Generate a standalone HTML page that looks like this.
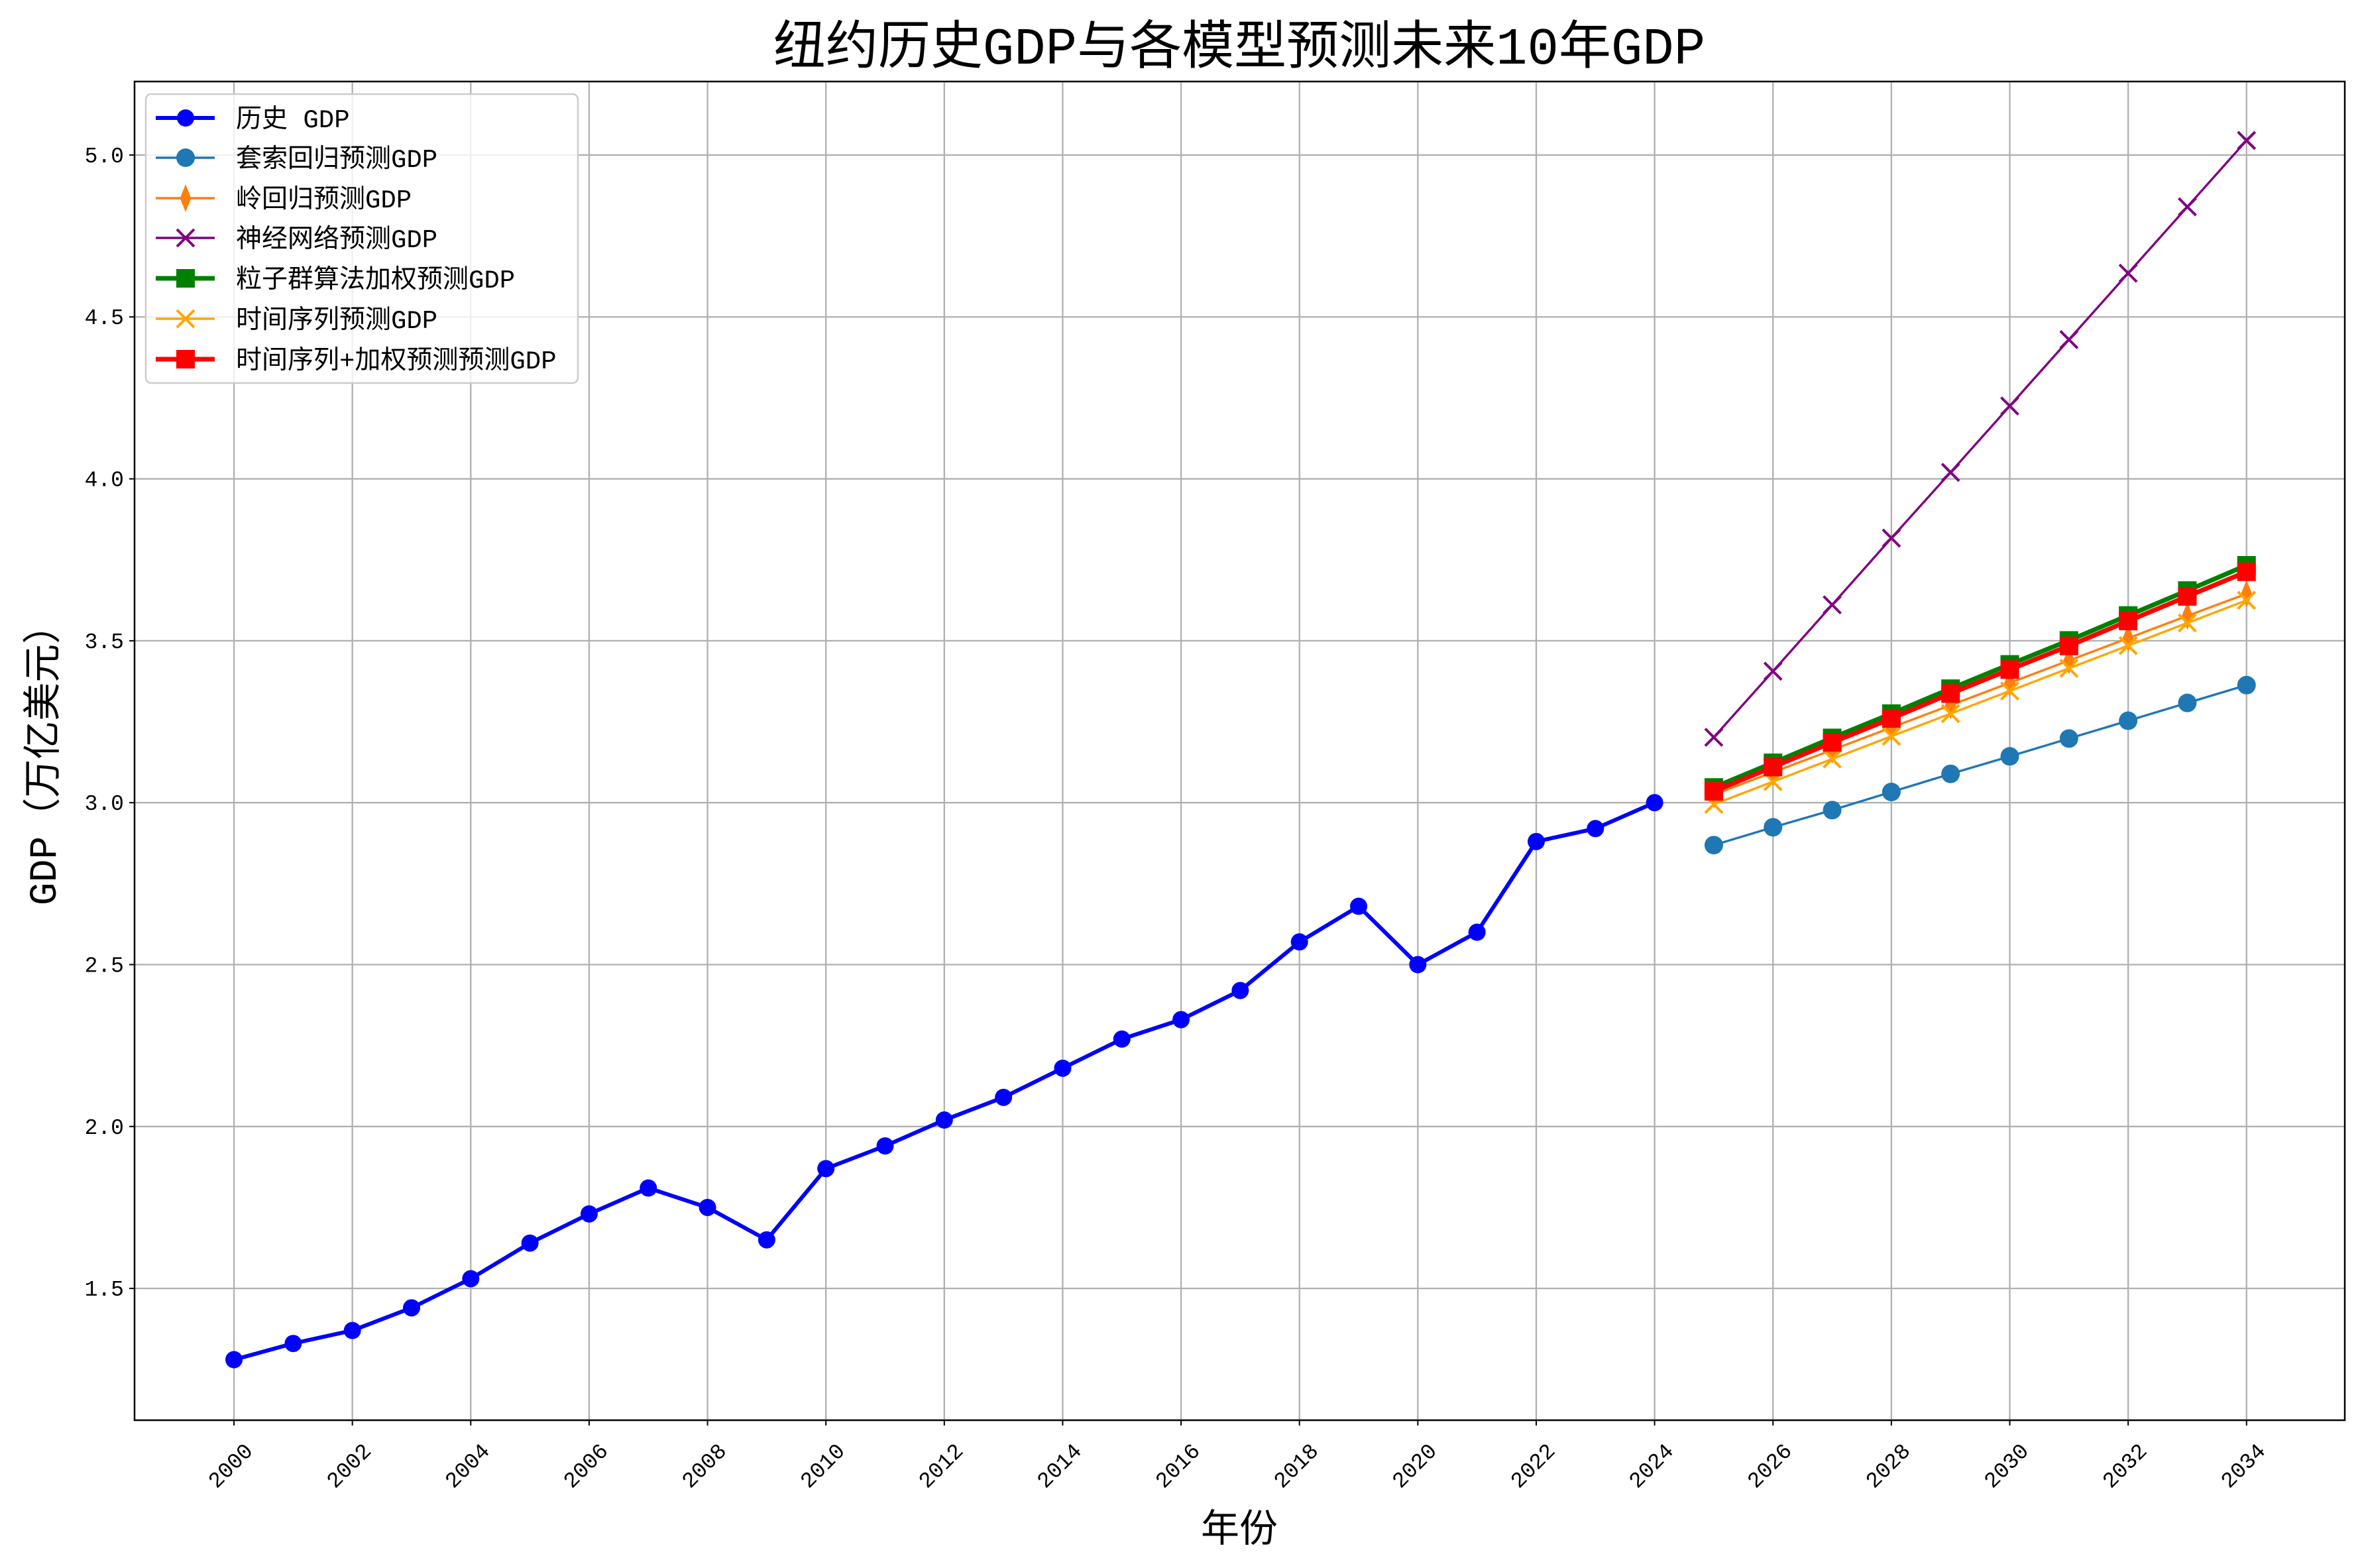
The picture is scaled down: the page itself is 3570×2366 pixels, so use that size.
<!DOCTYPE html>
<html><head><meta charset="utf-8"><style>
html,body{margin:0;padding:0;background:#fff;}
svg{display:block;font-family:"Liberation Mono","Noto Sans CJK SC",monospace;}
</style></head><body>
<svg id="chart" width="3570" height="2366" viewBox="0 0 3570 2366" xmlns="http://www.w3.org/2000/svg">
<rect x="0" y="0" width="3570" height="2366" fill="#fff"/>
<text x="1870" y="96" font-size="79" text-anchor="middle" fill="#000">纽约历史GDP与各模型预测未来10年GDP</text>
<g id="grid"></g>
<g id="axes"></g>
<g id="series"></g>
<rect x="203" y="123" width="3335" height="2020" fill="none" stroke="#000" stroke-width="2.5"/>
<text x="1870" y="2326" font-size="58" text-anchor="middle">年份</text>
<text x="0" y="0" font-size="58" text-anchor="middle" transform="translate(84,1140) rotate(-90)">GDP（万亿美元）</text>
<g id="legend"></g>
</svg>
<script>
const histYears=[2000,2001,2002,2003,2004,2005,2006,2007,2008,2009,2010,2011,2012,2013,2014,2015,2016,2017,2018,2019,2020,2021,2022,2023,2024];
const histGDP=[1.28,1.33,1.37,1.44,1.53,1.64,1.73,1.81,1.75,1.65,1.87,1.94,2.02,2.09,2.18,2.27,2.33,2.42,2.57,2.68,2.50,2.60,2.88,2.92,3.00];
const fcYears=[2025,2026,2027,2028,2029,2030,2031,2032,2033,2034];
const lassoGDP=[2.869,2.924,2.977,3.033,3.089,3.143,3.198,3.253,3.308,3.363];
const ridgeGDP=[3.025,3.094,3.163,3.232,3.301,3.370,3.439,3.508,3.577,3.645];
const nnGDP=[3.202,3.406,3.611,3.817,4.020,4.225,4.430,4.635,4.840,5.045];
const psoGDP=[3.047,3.123,3.200,3.275,3.352,3.427,3.501,3.578,3.655,3.733];
const tsGDP=[2.995,3.065,3.135,3.205,3.275,3.345,3.415,3.485,3.555,3.625];
const tsPsoGDP=[3.035,3.110,3.186,3.260,3.337,3.411,3.484,3.561,3.637,3.713];
const xTicks=[2000,2002,2004,2006,2008,2010,2012,2014,2016,2018,2020,2022,2024,2026,2028,2030,2032,2034];
const yTicks=[1.5,2.0,2.5,3.0,3.5,4.0,4.5,5.0];
const yTickLabels=["1.5","2.0","2.5","3.0","3.5","4.0","4.5","5.0"];
const legendLabels=["历史 GDP","套索回归预测GDP","岭回归预测GDP","神经网络预测GDP","粒子群算法加权预测GDP","时间序列预测GDP","时间序列+加权预测预测GDP"];

const L=203,R=3538,T=123,B=2143;
const xMin=1998.32,xMax=2035.66,yMin=1.093,yMax=5.227;
const sx=v=>L+(v-xMin)/(xMax-xMin)*(R-L);
const sy=v=>B-(v-yMin)/(yMax-yMin)*(B-T);
const NS="http://www.w3.org/2000/svg";
function mk(tag,attrs,parent){const e=document.createElementNS(NS,tag);for(const k in attrs)e.setAttribute(k,attrs[k]);parent.appendChild(e);return e;}
const grid=document.getElementById('grid'),axes=document.getElementById('axes'),ser=document.getElementById('series');

xTicks.forEach(t=>{
  const x=sx(t);
  const g=mk('line',{x1:x,x2:x,y1:T,y2:B,stroke:'#b0b0b0','stroke-width':2.3},grid);
  
  
  const tk=mk('line',{x1:x,x2:x,y1:B,y2:B+8,stroke:'#000','stroke-width':2},axes);
  
  
  const tx=mk('text',{x:0,y:0,'font-size':33,'text-anchor':'middle','dominant-baseline':'central',transform:`translate(${x-4},${B+70}) rotate(-45)`},axes);
  tx.textContent=String(t);
  
  
});
yTicks.forEach((t,i)=>{
  const y=sy(t);
  const g=mk('line',{x1:L,x2:R,y1:y,y2:y,stroke:'#b0b0b0','stroke-width':2.3},grid);
  
  
  const tk=mk('line',{x1:L-8,x2:L,y1:y,y2:y,stroke:'#000','stroke-width':2},axes);
  
  
  const tx=mk('text',{x:L-16,y:y+11,'font-size':33,'text-anchor':'end'},axes);
  tx.textContent=yTickLabels[i];
  
  
});

function marker(type,x,y,color,size,parent){
  if(type==='circle') return mk('circle',{cx:x,cy:y,r:size,fill:color},parent);
  if(type==='square') return mk('rect',{x:x-size,y:y-size,width:2*size,height:2*size,fill:color},parent);
  if(type==='diamond') return mk('path',{d:`M${x},${y-size*1.5}L${x+size*0.6},${y}L${x},${y+size*1.5}L${x-size*0.6},${y}Z`,fill:color},parent);
  if(type==='x') return mk('path',{d:`M${x-size},${y-size}L${x+size},${y+size}M${x-size},${y+size}L${x+size},${y-size}`,stroke:color,'stroke-width':4,fill:'none'},parent);
}
const specs=[
  {name:'historical-gdp',xs:histYears,ys:histGDP,color:'#0000ff',w:6,m:'circle',ms:13},
  {name:'lasso-forecast',xs:fcYears,ys:lassoGDP,color:'#1f77b4',w:3.4,m:'circle',ms:14},
  {name:'ridge-forecast',xs:fcYears,ys:ridgeGDP,color:'#ff7f0e',w:3.4,m:'diamond',ms:14},
  {name:'neural-net-forecast',xs:fcYears,ys:nnGDP,color:'#800080',w:3.4,m:'x',ms:13},
  {name:'pso-weighted-forecast',xs:fcYears,ys:psoGDP,color:'#008000',w:7,m:'square',ms:14},
  {name:'time-series-forecast',xs:fcYears,ys:tsGDP,color:'#ffa500',w:3.4,m:'x',ms:13},
  {name:'ts-weighted-forecast',xs:fcYears,ys:tsPsoGDP,color:'#ff0000',w:7,m:'square',ms:14}
];
specs.forEach(s=>{
  const g=mk('g',{},ser);
  
  
  const pts=s.xs.map((x,i)=>sx(x)+','+sy(s.ys[i])).join(' ');
  const pl=mk('polyline',{points:pts,fill:'none',stroke:s.color,'stroke-width':s.w,'stroke-linejoin':'round'},g);
  
  
  s.xs.forEach((x,i)=>{
    const m=marker(s.m,sx(x),sy(s.ys[i]),s.color,s.ms,g);
    
    
  });
});

const lg=document.getElementById('legend');
const box=mk('rect',{x:220,y:142,width:652,height:436,rx:8,fill:'#fff','fill-opacity':0.8,stroke:'#cccccc','stroke-width':2.5},lg);


const rowY=[178,238,299,359,420,481,542];
specs.forEach((s,i)=>{
  const g=mk('g',{},lg);
  
  
  const y=rowY[i];
  mk('line',{x1:235,x2:324,y1:y,y2:y,stroke:s.color,'stroke-width':s.w},g);
  marker(s.m,280,y,s.color,s.ms,g);
  const t=mk('text',{x:356,y:y+14,'font-size':39},g);
  t.textContent=legendLabels[i];
});
</script>
</body></html>
